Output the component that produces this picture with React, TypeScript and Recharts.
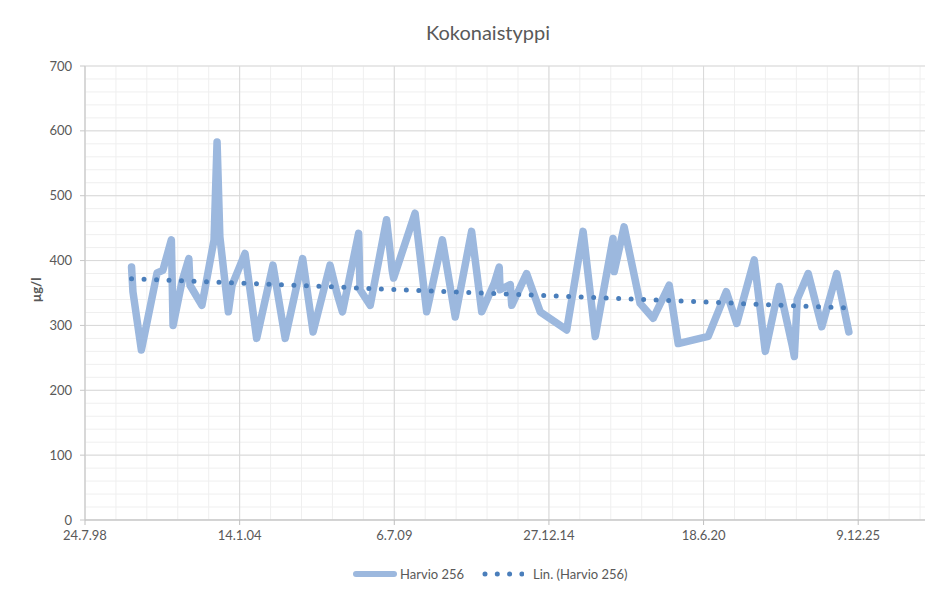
import React from 'react';
import { LineChart, Line, XAxis, YAxis, CartesianGrid, Legend } from 'recharts';

const seriesName = 'Harvio 256';
const trendName = 'Lin. (Harvio 256)';
const chartTitle = 'Kokonaistyppi';
const yAxisTitle = 'µg/l';

const sampleDates = [
  '2000-03-17', '2000-04-04', '2000-07-22', '2001-02-10', '2001-04-26', '2001-08-14', '2001-09-05',
  '2001-12-30', '2002-03-28', '2002-04-12', '2002-09-13', '2003-02-17', '2003-03-28', '2003-05-03',
  '2003-08-21', '2003-10-08', '2004-03-24', '2004-08-21', '2005-03-20', '2005-08-25', '2006-04-08',
  '2006-08-21', '2007-03-28', '2007-06-27', '2007-09-05', '2008-04-01', '2008-04-19', '2008-08-29',
  '2009-03-28', '2009-06-09', '2009-06-27', '2010-04-01', '2010-08-29', '2011-03-20', '2011-09-02',
  '2012-04-01', '2012-08-10', '2013-01-19', '2013-03-24', '2013-04-04', '2013-08-14', '2013-09-02',
  '2014-03-13', '2014-09-05', '2015-08-14', '2016-03-13', '2016-08-17', '2017-04-04', '2017-04-19',
  '2017-08-25', '2018-03-20', '2018-09-05', '2019-04-01', '2019-07-26', '2020-08-17', '2021-04-08',
  '2021-08-21', '2022-04-04', '2022-08-25', '2023-02-21', '2023-08-07', '2023-09-05', '2023-10-12',
  '2024-03-02', '2024-08-25', '2025-03-06', '2025-08-10',
];
const sampleValues = [
  390, 352, 262, 381, 385, 432, 300,
  368, 403, 362, 331, 432, 583, 437,
  321, 362, 411, 280, 393, 280, 403,
  290, 393, 349, 321, 442, 355, 331,
  463, 385, 373, 473, 321, 432, 313,
  445, 321, 365, 390, 355, 363, 331,
  380, 321, 293, 445, 283, 434, 383,
  452, 334, 311, 362, 272, 283, 352,
  303, 401, 260, 360, 270, 252, 340,
  380, 298, 380, 290,
];

const trendDates = ['2000-03-17', '2025-08-10'];
const trendValues = [372, 327];

const xTickDates = ['1998-07-24', '2004-01-14', '2009-07-06', '2014-12-27', '2020-06-18', '2025-12-09'];
const xTickLabels = ['24.7.98', '14.1.04', '6.7.09', '27.12.14', '18.6.20', '9.12.25'];
const yTicks = [0, 100, 200, 300, 400, 500, 600, 700];

const DAY = 86400000;
const toDay = (s: string) => {
  const [y, m, d] = s.split('-').map(Number);
  return Date.UTC(y, m - 1, d) / DAY;
};

const mainData = sampleDates.map((d, i) => ({ t: toDay(d), v: sampleValues[i] }));
const trendData = trendDates.map((d, i) => ({ t: toDay(d), v: trendValues[i] }));
const xTicks = xTickDates.map(toDay);
const xMin = xTicks[0];
const xMax = xMin + 11200;
const minorX: number[] = [];
for (let t = xMin; t <= xMax; t += 400) minorX.push(t);
const majorX: number[] = [];
for (let t = xMin; t <= xMax; t += 2000) majorX.push(t);
const minorY: number[] = [];
for (let v = 0; v <= 700; v += 20) minorY.push(v);

const mainColor = '#9cb8de';
const trendColor = '#4a7ebb';
const textColor = '#595959';
const font = 'Lato, "Open Sans", sans-serif';

const fmtX = (v: number) => {
  const i = xTicks.indexOf(v);
  return i >= 0 ? xTickLabels[i] : '';
};

const renderLegend = () => (
  <div
    style={{
      display: 'flex',
      alignItems: 'center',
      height: 20,
      paddingLeft: 344,
      fontFamily: font,
      fontSize: 13,
      color: textColor,
      whiteSpace: 'nowrap',
    }}
  >
    <svg width={46} height={10}>
      <line x1={4} y1={5} x2={42} y2={5} stroke={mainColor} strokeWidth={6} strokeLinecap="round" />
    </svg>
    <span style={{ marginLeft: 2 }}>{seriesName}</span>
    <svg width={42} height={10} style={{ marginLeft: 18 }}>
      <line x1={3} y1={5} x2={40} y2={5} stroke={trendColor} strokeWidth={5} strokeDasharray="0 12.3" strokeLinecap="round" />
    </svg>
    <span style={{ marginLeft: 9 }}>{trendName}</span>
  </div>
);

export default function App() {
  return (
    <div style={{ margin: -8, width: 933, height: 592, overflow: 'hidden', position: 'relative', background: '#fff' }}>
      <div style={{ position: 'absolute', left: 3, top: 3, width: 1200, height: 1200, border: '1px solid #d9d9d9' }} />
      <div
        style={{
          position: 'absolute',
          left: 0,
          top: 20,
          width: 976,
          textAlign: 'center',
          fontFamily: font,
          fontSize: 20,
          lineHeight: '24px',
          color: textColor,
        }}
      >
        {chartTitle}
      </div>
      <div
        style={{
          position: 'absolute',
          left: 36,
          top: 290,
          transform: 'translate(-50%, -50%) rotate(-90deg)',
          fontFamily: font,
          fontSize: 13,
          fontWeight: 'bold',
          color: textColor,
          whiteSpace: 'nowrap',
        }}
      >
        {yAxisTitle}
      </div>
      <div style={{ position: 'absolute', left: 8, top: 8 }}>
        <LineChart width={960} height={584} margin={{ top: 58, right: 17, bottom: 8, left: 0 }}>
          <CartesianGrid stroke="#efefef" verticalValues={minorX} horizontalValues={minorY} />
          <CartesianGrid stroke="#d9d9d9" verticalValues={majorX} horizontalValues={yTicks} />
          <XAxis
            type="number"
            dataKey="t"
            domain={[xMin, xMax]}
            ticks={xTicks}
            interval={0}
            tickFormatter={fmtX}
            allowDataOverflow
            height={44}
            tickSize={5}
            tickMargin={6}
            axisLine={{ stroke: '#bfbfbf' }}
            tickLine={{ stroke: '#bfbfbf' }}
            tick={{ fill: textColor, fontSize: 13, fontFamily: font }}
          />
          <YAxis
            type="number"
            domain={[0, 700]}
            ticks={yTicks}
            interval={0}
            width={77}
            tickSize={5}
            tickMargin={8}
            axisLine={{ stroke: '#c8c8c8' }}
            tickLine={{ stroke: '#c8c8c8' }}
            tick={{ fill: textColor, fontSize: 13, fontFamily: font }}
          />
          <Legend verticalAlign="bottom" content={renderLegend} />
          <Line
            data={mainData}
            dataKey="v"
            name={seriesName}
            type="linear"
            stroke={mainColor}
            strokeWidth={7.5}
            strokeLinejoin="round"
            strokeLinecap="round"
            dot={false}
            activeDot={false}
            isAnimationActive={false}
          />
          <Line
            data={trendData}
            dataKey="v"
            name={trendName}
            type="linear"
            stroke={trendColor}
            strokeWidth={5}
            strokeDasharray="0 12.5"
            strokeLinecap="round"
            dot={false}
            activeDot={false}
            isAnimationActive={false}
          />
        </LineChart>
      </div>
    </div>
  );
}
